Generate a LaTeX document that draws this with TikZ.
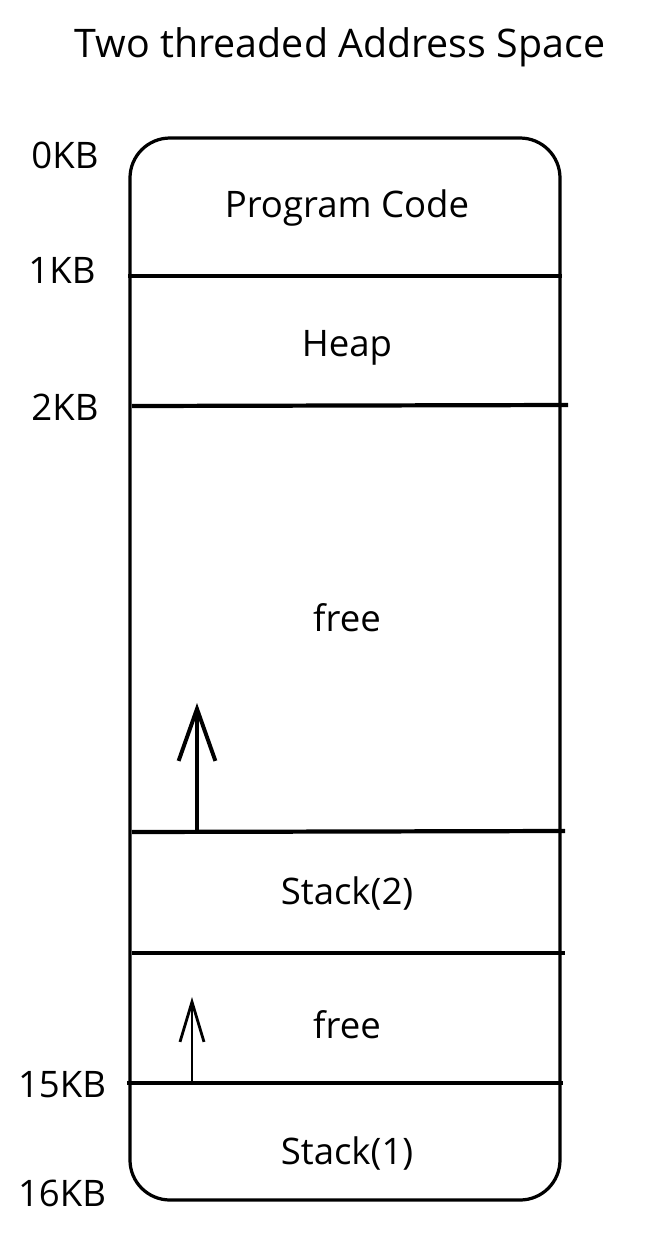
\documentclass[tikz,border=0pt]{standalone}
\usepackage{fontspec}
\setmainfont{Open Sans}
\usetikzlibrary{arrows.meta, positioning, calc}

\begin{document}
\begin{tikzpicture}[x=0.025cm, y=-0.025cm, every node/.style={font=\fontsize{26}{30}\selectfont}]
    \useasboundingbox (0,0) rectangle (651,1239);

    % 标题
    \node (title) at (340,47) {\fontsize{28}{32}\selectfont Two threaded Address Space};

    % 外框
    \draw[line width=2.3pt, rounded corners=1cm] (130,138) rectangle (560,1200);

    % 分隔线
    \coordinate (l1) at (128,276);  \coordinate (r1) at (562,276);
    \coordinate (l2) at (132,406);  \coordinate (r2) at (568,405);
    \coordinate (l3) at (132,832);  \coordinate (r3) at (565,831);
    \coordinate (l4) at (132,953);  \coordinate (r4) at (565,953);
    \coordinate (l5) at (127,1083); \coordinate (r5) at (563,1083);

    \draw[line width=3pt] (l1) -- (r1);
    \draw[line width=3pt] (l2) -- (r2);
    \draw[line width=3pt] (l3) -- (r3);
    \draw[line width=2.6pt] (l4) -- (r4);
    \draw[line width=3.2pt] (l5) -- (r5);

    % 各段
    \node (code) at (347,208) {Program Code};
    \node (heap) at (347,348) {Heap};
    \node (free1) at (347,618) {free};
    \node (stack2) at (347,893) {Stack(2)};
    \node (free2) at (347,1025) {free};
    \node (stack1) at (347,1153) {Stack(1)};

    % 地址
    \node (kb0) at (65,155) {0KB};
    \node (kb1) at (62,270) {1KB};
    \node (kb2) at (65,407) {2KB};
    \node (kb15) at (62,1085) {15KB};
    \node (kb16) at (62,1193) {16KB};

    % 箭头
    \coordinate (a1) at (197,832);  \coordinate (b1) at (197,703);
    \coordinate (a2) at (192,1083); \coordinate (b2) at (192,997);
    \draw[line width=2.8pt, -{Straight Barb[length=1.3cm, width=0.92cm]}] (a1) -- (b1);
    \draw[line width=2pt, -{Straight Barb[length=1cm, width=0.6cm]}] (a2) -- (b2);
\end{tikzpicture}
\end{document}
